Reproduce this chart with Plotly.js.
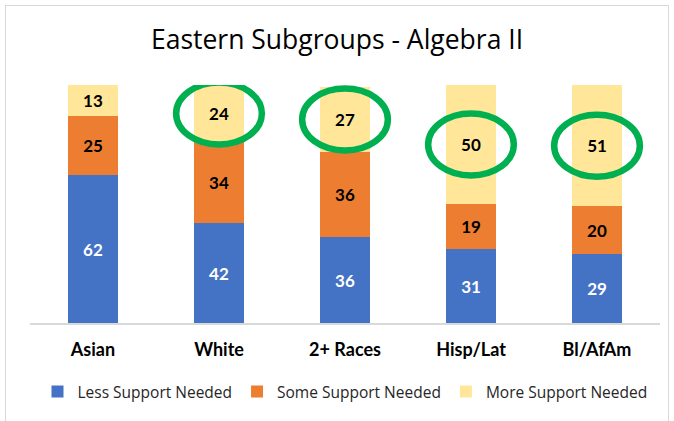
<!DOCTYPE html>
<html>
<head>
<meta charset="utf-8">
<script src="https://cdn.plot.ly/plotly-3.0.1.min.js"></script>
<style>
  body { margin: 0; background: #fff; }
  #frame { position: absolute; left: 5px; top: 5px; width: 662px; height: 430px; border: 1px solid #d9d9d9; }
  #chart { position: absolute; left: 0; top: 0; width: 674px; height: 421px; }
</style>
</head>
<body>
<div id="frame"></div>
<div id="chart"></div>
<script>
var groups = ['Asian', 'White', '2+ Races', 'Hisp/Lat', 'Bl/AfAm'];
var lessSupport = [62, 42, 36, 31, 29];
var someSupport = [25, 34, 36, 19, 20];
var moreSupport = [13, 24, 27, 50, 51];
var circled = ['White', '2+ Races', 'Hisp/Lat', 'Bl/AfAm'];

var labelFont = { family: 'Lato, sans-serif', size: 17, weight: 'bold' };

function series(name, vals, color, textColor) {
  return {
    x: groups,
    y: vals,
    type: 'bar',
    name: name,
    text: vals.map(String),
    textposition: 'inside',
    insidetextanchor: 'middle',
    constraintext: 'none',
    textfont: Object.assign({ color: textColor }, labelFont),
    marker: { color: color },
    hoverinfo: 'skip'
  };
}

var data = [
  series('Less Support Needed', lessSupport, '#4472c4', '#ffffff'),
  series('Some Support Needed', someSupport, '#ed7d31', '#000000'),
  series('More Support Needed', moreSupport, '#ffe699', '#000000')
];

// green rings around the top segment of the circled groups
var shapes = circled.map(function (g) {
  var i = groups.indexOf(g);
  var mid = lessSupport[i] + someSupport[i] + moreSupport[i] / 2;
  return {
    type: 'circle', xref: 'x', yref: 'y',
    x0: i - 0.34, x1: i + 0.34,
    y0: mid - 13, y1: mid + 13,
    line: { color: '#00b050', width: 6.5 }
  };
});

var layout = {
  width: 674,
  height: 421,
  margin: { l: 30, r: 14, t: 85, b: 98 },
  paper_bgcolor: 'rgba(0,0,0,0)',
  plot_bgcolor: 'rgba(0,0,0,0)',
  barmode: 'stack',
  bargap: 0.6,
  title: {
    text: 'Eastern Subgroups - Algebra II',
    font: { family: '"Open Sans", sans-serif', size: 26.5, color: '#000' },
    x: 0.5, xanchor: 'center',
    y: 0.905, yanchor: 'middle'
  },
  xaxis: {
    showline: true,
    linecolor: '#d9d9d9',
    linewidth: 1.5,
    ticks: '',
    ticklabelstandoff: 10,
    tickfont: { family: 'Lato, sans-serif', size: 18, weight: 'bold', color: '#000' }
  },
  yaxis: {
    range: [0, 100],
    visible: false,
    showgrid: false,
    zeroline: false
  },
  showlegend: true,
  legend: {
    orientation: 'h',
    x: 0.5, xanchor: 'center',
    y: -0.29, yanchor: 'middle',
    itemwidth: 30,
    font: { family: '"Open Sans", sans-serif', size: 15.5, color: '#262626' },
    traceorder: 'normal'
  },
  shapes: shapes
};

Plotly.newPlot('chart', data, layout, { displayModeBar: false, staticPlot: true });
</script>
</body>
</html>
